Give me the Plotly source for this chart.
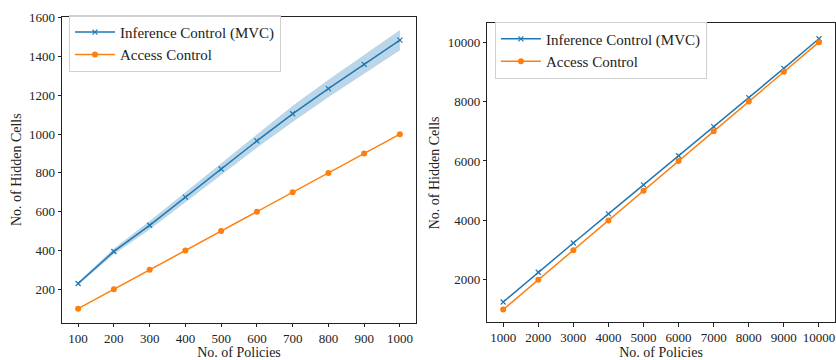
import plotly.graph_objects as go

# Left panel data
policies_small = [100, 200, 300, 400, 500, 600, 700, 800, 900, 1000]
ic_small = [230, 395, 530, 675, 820, 965, 1105, 1235, 1360, 1485]
ic_small_err = [8, 15, 22, 25, 30, 35, 42, 45, 48, 52]
ac_small = [100, 200, 300, 400, 500, 600, 700, 800, 900, 1000]

# Right panel data
policies_large = [1000, 2000, 3000, 4000, 5000, 6000, 7000, 8000, 9000, 10000]
ic_large = [1255, 2255, 3240, 4220, 5195, 6175, 7155, 8130, 9115, 10115]
ac_large = [1000, 2000, 3000, 4000, 5000, 6000, 7000, 8000, 9000, 10000]

x_ticks_small = policies_small
y_ticks_small = [200, 400, 600, 800, 1000, 1200, 1400, 1600]
x_ticks_large = policies_large
y_ticks_large = [2000, 4000, 6000, 8000, 10000]

BLUE = "#1f77b4"
ORANGE = "#ff7f0e"
FONT = "'Liberation Serif', 'DejaVu Serif', serif"

fig = go.Figure()

upper = [v + e for v, e in zip(ic_small, ic_small_err)]
lower = [v - e for v, e in zip(ic_small, ic_small_err)]
fig.add_trace(go.Scatter(x=policies_small, y=upper, mode="lines", line=dict(width=0),
                         showlegend=False, hoverinfo="skip", xaxis="x", yaxis="y"))
fig.add_trace(go.Scatter(x=policies_small, y=lower, mode="lines", line=dict(width=0),
                         fill="tonexty", fillcolor="rgba(31,119,180,0.3)",
                         showlegend=False, hoverinfo="skip", xaxis="x", yaxis="y"))
fig.add_trace(go.Scatter(x=policies_small, y=ic_small, mode="lines+markers",
                         name="Inference Control (MVC)",
                         line=dict(color=BLUE, width=1.5),
                         marker=dict(symbol="x-thin", size=5, line=dict(color=BLUE, width=1.2)),
                         xaxis="x", yaxis="y", legend="legend"))
fig.add_trace(go.Scatter(x=policies_small, y=ac_small, mode="lines+markers",
                         name="Access Control",
                         line=dict(color=ORANGE, width=1.5),
                         marker=dict(symbol="circle", size=6, color=ORANGE),
                         xaxis="x", yaxis="y", legend="legend"))

fig.add_trace(go.Scatter(x=policies_large, y=ic_large, mode="lines+markers",
                         name="Inference Control (MVC)",
                         line=dict(color=BLUE, width=1.5),
                         marker=dict(symbol="x-thin", size=5, line=dict(color=BLUE, width=1.2)),
                         xaxis="x2", yaxis="y2", legend="legend2"))
fig.add_trace(go.Scatter(x=policies_large, y=ac_large, mode="lines+markers",
                         name="Access Control",
                         line=dict(color=ORANGE, width=1.5),
                         marker=dict(symbol="circle", size=6, color=ORANGE),
                         xaxis="x2", yaxis="y2", legend="legend2"))

axis_common = dict(showline=True, linecolor="#222", linewidth=1, mirror=True,
                   ticks="outside", ticklen=3.5, tickwidth=1, tickcolor="#222",
                   showgrid=False, zeroline=False, tickformat="d",
                   tickfont=dict(family=FONT, size=13, color="#222"))
title_font = dict(family=FONT, size=14, color="#222")

fig.update_layout(
    width=836, height=360,
    margin=dict(l=0, r=0, t=0, b=0),
    paper_bgcolor="white", plot_bgcolor="white",
    font=dict(family=FONT, size=13, color="#222"),
    xaxis=dict(domain=[0.0742, 0.4976], range=[55, 1045], tickvals=x_ticks_small,
               title=dict(text="No. of Policies", font=title_font, standoff=2), anchor="y",
               **axis_common),
    yaxis=dict(domain=[0.1056, 0.9694], range=[28, 1605], tickvals=y_ticks_small,
               title=dict(text="No. of Hidden Cells", font=title_font, standoff=4), anchor="x",
               **axis_common),
    xaxis2=dict(domain=[0.583, 0.9985], range=[550, 10450], tickvals=x_ticks_large,
                title=dict(text="No. of Policies", font=title_font, standoff=2), anchor="y2",
                **axis_common),
    yaxis2=dict(domain=[0.1064, 0.9508], range=[570, 10630], tickvals=y_ticks_large,
                title=dict(text="No. of Hidden Cells", font=title_font, standoff=4), anchor="x2",
                **axis_common),
    legend=dict(x=0.0825, y=0.975, xanchor="left", yanchor="top", traceorder="normal",
                bgcolor="rgba(255,255,255,0.8)", bordercolor="#d0d0d0", borderwidth=1,
                font=dict(family=FONT, size=15, color="#222"), itemwidth=40,
                tracegroupgap=0),
    legend2=dict(x=0.592, y=0.956, xanchor="left", yanchor="top", traceorder="normal",
                 bgcolor="rgba(255,255,255,0.8)", bordercolor="#d0d0d0", borderwidth=1,
                 font=dict(family=FONT, size=15, color="#222"), itemwidth=40,
                 tracegroupgap=0),
)

fig.write_html("out.html", config={"displayModeBar": False},
               post_script="document.body.style.margin='0';")
